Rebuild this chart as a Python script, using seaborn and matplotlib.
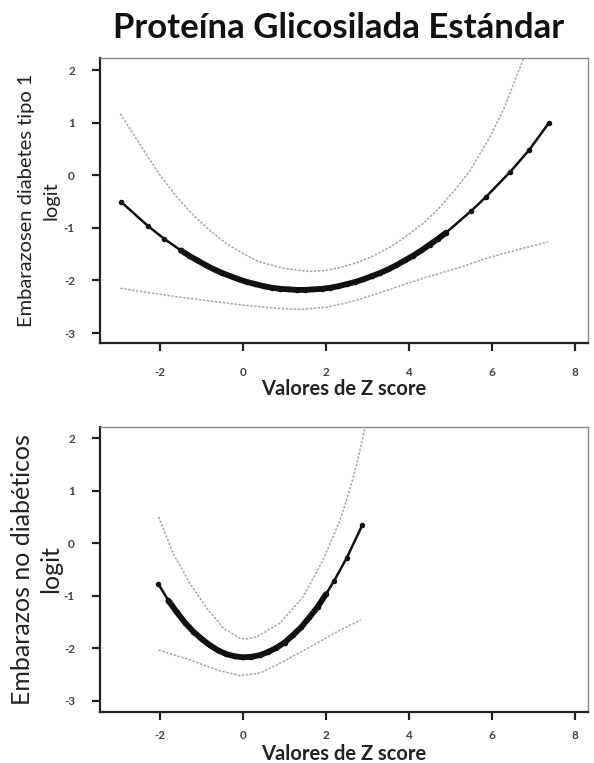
import numpy as np
import pandas as pd
import matplotlib
matplotlib.use("Agg")
import matplotlib.pyplot as plt
import seaborn as sns

# ---------------- data ----------------
title = "Proteína Glicosilada Estándar"
xlabel = "Valores de Z score"
ylabel_top = "Embarazosen diabetes tipo 1\nlogit"
ylabel_bot = "Embarazos no diabéticos\nlogit"
xticks = [-2, 0, 2, 4, 6, 8]
yticks = [-3, -2, -1, 0, 1, 2]

# top panel: fitted logit curve
t1_fit_x = [-2.95, -2.30, -1.90, -1.50, -1.30, -1.10, -0.90, -0.70, -0.50, -0.30,
            -0.10, 0.10, 0.30, 0.50, 0.70, 0.90, 1.10, 1.30, 1.50, 1.70,
            1.90, 2.10, 2.30, 2.50, 2.70, 2.90, 3.10, 3.30, 3.50, 3.70,
            3.90, 4.10, 4.30, 4.50, 4.70, 4.90, 5.50, 5.85, 6.45, 6.90, 7.38]
t1_fit_y = [-0.50, -0.96, -1.21, -1.43, -1.53, -1.62, -1.71, -1.79, -1.86, -1.92,
            -1.98, -2.03, -2.07, -2.11, -2.14, -2.16, -2.17, -2.18, -2.18, -2.17,
            -2.16, -2.14, -2.11, -2.07, -2.03, -1.98, -1.92, -1.86, -1.79, -1.71,
            -1.62, -1.53, -1.43, -1.32, -1.21, -1.09, -0.68, -0.42, 0.07, 0.48, 1.00]
# top panel: upper / lower confidence limits
t1_up_x = [-2.96, -2.40, -2.00, -1.60, -1.20, -0.80, -0.40, 0.00, 0.40, 1.00,
           1.60, 2.00, 2.42, 2.75, 3.10, 3.54, 3.90, 4.34, 4.70, 5.16,
           5.50, 5.95, 6.30, 6.75, 7.38]
t1_up_y = [1.17, 0.48, 0.00, -0.41, -0.76, -1.05, -1.30, -1.49, -1.65, -1.77,
           -1.83, -1.81, -1.74, -1.66, -1.55, -1.37, -1.18, -0.92, -0.65, -0.23,
           0.12, 0.72, 1.28, 2.19, 3.50]
t1_lo_x = [-2.96, -2.30, -1.60, -0.80, 0.00, 0.80, 1.40, 2.00, 2.42, 2.75,
           3.50, 4.34, 5.20, 5.95, 6.70, 7.35]
t1_lo_y = [-2.15, -2.23, -2.31, -2.39, -2.47, -2.53, -2.55, -2.51, -2.44, -2.37,
           -2.18, -1.96, -1.76, -1.56, -1.40, -1.27]

# bottom panel: fitted logit curve
t2_fit_x = [-2.04, -1.80, -1.60, -1.40, -1.20, -1.00, -0.80, -0.60, -0.40, -0.20,
            0.00, 0.20, 0.40, 0.60, 0.80, 1.00, 1.20, 1.40, 1.60, 1.80,
            2.00, 2.20, 2.50, 2.88]
t2_fit_y = [-0.78, -1.09, -1.31, -1.51, -1.68, -1.82, -1.94, -2.04, -2.11, -2.15,
            -2.17, -2.16, -2.13, -2.07, -1.99, -1.89, -1.75, -1.60, -1.41, -1.21,
            -0.97, -0.71, -0.28, 0.35]
# bottom panel: upper / lower confidence limits
t2_up_x = [-2.04, -1.68, -1.28, -0.87, -0.47, -0.07, 0.10, 0.33, 0.89, 1.45,
           1.93, 2.34, 2.50, 2.66, 2.80, 2.92, 2.98]
t2_up_y = [0.50, -0.20, -0.77, -1.24, -1.62, -1.81, -1.82, -1.78, -1.52, -1.02,
           -0.32, 0.44, 0.83, 1.26, 1.70, 2.12, 2.35]
t2_lo_x = [-2.04, -1.28, -0.63, -0.07, 0.41, 0.97, 1.69, 2.34, 2.84]
t2_lo_y = [-2.03, -2.22, -2.41, -2.52, -2.47, -2.25, -1.94, -1.65, -1.46]

# ---------------- style ----------------
sns.set_theme(style="white")
plt.rcParams["font.family"] = ["Lato", "DejaVu Sans"]

fig = plt.figure(figsize=(5.94, 7.63), dpi=100)
W, H = 594.0, 763.0
ax1 = fig.add_axes([100 / W, 1 - 343 / H, 488 / W, 285 / H])
ax2 = fig.add_axes([100 / W, 1 - 712 / H, 488 / W, 285 / H])

CI_COLOR = "#a6a6a6"
FIT_COLOR = "#111111"


def draw_panel(ax, fx, fy, ux, uy, lx, ly, dense_lo, dense_hi, ylim, ylab,
               ylab_size, ylab_space, ylab_x, xlab_y, xpad):
    for cx, cy in ((ux, uy), (lx, ly)):
        sns.lineplot(x=cx, y=cy, ax=ax, color=CI_COLOR, lw=1.1,
                     linestyle=(0, (1.6, 1.0)), sort=False, estimator=None)
    fx_a = np.asarray(fx)
    fy_a = np.asarray(fy)
    sns.lineplot(x=fx_a, y=fy_a, ax=ax, color=FIT_COLOR, lw=1.8, sort=False,
                 estimator=None, marker="o", markersize=4.0, markeredgewidth=0)
    m = (fx_a >= dense_lo) & (fx_a <= dense_hi)
    sns.lineplot(x=fx_a[m], y=fy_a[m], ax=ax, color=FIT_COLOR, lw=4.2,
                 sort=False, estimator=None, solid_capstyle="round")

    ax.set_xlim(-3.45, 8.32)
    ax.set_ylim(*ylim)
    ax.set_xticks(xticks)
    ax.set_yticks(yticks)
    ax.set_xticklabels([str(v) for v in xticks])
    ax.set_yticklabels([str(v) for v in yticks])
    ax.tick_params(axis="both", direction="out", length=6, width=1.6,
                   color="#222222", labelsize=8.5, labelcolor="#444444",
                   bottom=True, left=True)
    ax.tick_params(axis="x", pad=xpad)
    ax.tick_params(axis="y", pad=12)
    for lab in ax.get_xticklabels() + ax.get_yticklabels():
        lab.set_fontweight("bold")

    for side in ("top", "right"):
        ax.spines[side].set_color("#8a8a8a")
        ax.spines[side].set_linewidth(1.0)
    for side in ("left", "bottom"):
        ax.spines[side].set_color("#222222")
        ax.spines[side].set_linewidth(1.6)

    ax.set_xlabel(xlabel, fontsize=14.5, fontweight="bold", color="#222222")
    ax.xaxis.set_label_coords(0.5, xlab_y)
    ax.set_ylabel(ylab, fontsize=ylab_size, color="#222222",
                  linespacing=ylab_space)
    ax.yaxis.set_label_coords(ylab_x, 0.5)
    ax.grid(False)


draw_panel(ax1, t1_fit_x, t1_fit_y, t1_up_x, t1_up_y, t1_lo_x, t1_lo_y,
           -1.55, 4.95, (-3.19, 2.23), ylabel_top, 14.5, 1.5, -0.083, -0.128, 11)
draw_panel(ax2, t2_fit_x, t2_fit_y, t2_up_x, t2_up_y, t2_lo_x, t2_lo_y,
           -1.85, 2.05, (-3.21, 2.21), ylabel_bot, 18, 1.3, -0.077, -0.111, 7)

fig.text(339 / W, 1 - 28 / H, title, ha="center", va="center",
         fontsize=25, fontweight="bold", color="#111111")

fig.savefig("out.png", dpi=100)
